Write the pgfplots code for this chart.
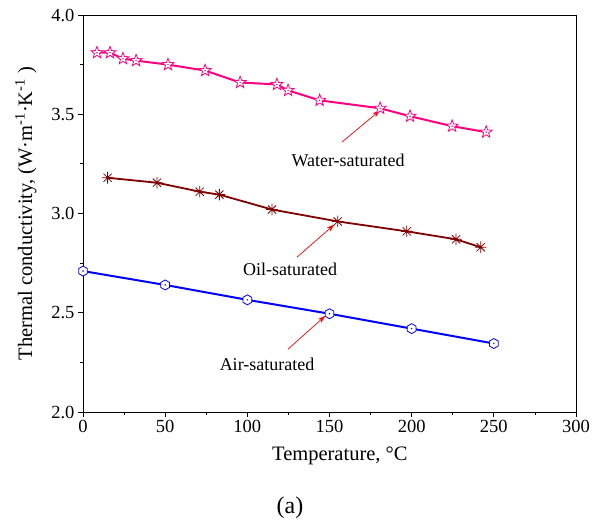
\documentclass[border=0pt]{standalone}
\usepackage{pgfplots}
\pgfplotsset{compat=1.18}
\usepackage{fontspec}
\setmainfont{Liberation Serif}
\usetikzlibrary{arrows.meta}
\definecolor{waterc}{RGB}{255,0,128}
\definecolor{oilc}{RGB}{128,0,0}
\definecolor{airc}{RGB}{0,0,255}
\pgfdeclareplotmark{hexo}{%
  \pgfpathmoveto{\pgfqpointpolar{90}{\pgfplotmarksize}}%
  \pgfpathlineto{\pgfqpointpolar{150}{\pgfplotmarksize}}%
  \pgfpathlineto{\pgfqpointpolar{210}{\pgfplotmarksize}}%
  \pgfpathlineto{\pgfqpointpolar{270}{\pgfplotmarksize}}%
  \pgfpathlineto{\pgfqpointpolar{330}{\pgfplotmarksize}}%
  \pgfpathlineto{\pgfqpointpolar{30}{\pgfplotmarksize}}%
  \pgfpathclose
  \pgfusepathqfillstroke
  \pgfpathcircle{\pgfpointorigin}{0.25pt}\pgfusepathqstroke}
\pgfdeclareplotmark{staro}{%
  \pgfpathmoveto{\pgfqpointpolar{90}{\pgfplotmarksize}}%
  \pgfpathlineto{\pgfqpointpolar{126}{0.42\pgfplotmarksize}}%
  \pgfpathlineto{\pgfqpointpolar{162}{\pgfplotmarksize}}%
  \pgfpathlineto{\pgfqpointpolar{198}{0.42\pgfplotmarksize}}%
  \pgfpathlineto{\pgfqpointpolar{234}{\pgfplotmarksize}}%
  \pgfpathlineto{\pgfqpointpolar{270}{0.42\pgfplotmarksize}}%
  \pgfpathlineto{\pgfqpointpolar{306}{\pgfplotmarksize}}%
  \pgfpathlineto{\pgfqpointpolar{342}{0.42\pgfplotmarksize}}%
  \pgfpathlineto{\pgfqpointpolar{18}{\pgfplotmarksize}}%
  \pgfpathlineto{\pgfqpointpolar{54}{0.42\pgfplotmarksize}}%
  \pgfpathclose
  \pgfusepathqfillstroke
  \pgfpathcircle{\pgfpointorigin}{0.25pt}\pgfusepathqstroke}
\pgfdeclareplotmark{ast8}{%
  \pgfpathmoveto{\pgfqpointpolar{0}{\pgfplotmarksize}}\pgfpathlineto{\pgfqpointpolar{180}{\pgfplotmarksize}}%
  \pgfpathmoveto{\pgfqpointpolar{90}{\pgfplotmarksize}}\pgfpathlineto{\pgfqpointpolar{270}{\pgfplotmarksize}}%
  \pgfpathmoveto{\pgfqpointpolar{45}{\pgfplotmarksize}}\pgfpathlineto{\pgfqpointpolar{225}{\pgfplotmarksize}}%
  \pgfpathmoveto{\pgfqpointpolar{135}{\pgfplotmarksize}}\pgfpathlineto{\pgfqpointpolar{315}{\pgfplotmarksize}}%
  \pgfusepathqstroke}
\begin{document}
\begin{tikzpicture}
\path[use as bounding box] (-83pt,-112pt) rectangle (512pt,412pt);
\begin{axis}[
  at={(0pt,0pt)}, anchor=south west,
  scale only axis, width=493pt, height=397pt,
  xmin=0, xmax=300, ymin=2.0, ymax=4.0,
  xtick={0,50,...,300}, ytick={2.0,2.5,...,4.0},
  minor x tick num=1, minor y tick num=1,
  xtick pos=bottom, ytick pos=left,
  tick align=outside,
  major tick length=5pt, minor tick length=3pt,
  tick style={black, line width=0.8pt},
  axis line style={line width=0.9pt},
  yticklabel style={/pgf/number format/fixed, /pgf/number format/fixed zerofill, /pgf/number format/precision=1},
  /pgf/number format/assume math mode=true,
  ticklabel style={font=\fontsize{18.5}{22}\selectfont},
  label style={font=\fontsize{20.5}{24}\selectfont},
  xlabel={Temperature, °C},
  ylabel={Thermal conductivity, (W·m\textsuperscript{-1}·K\textsuperscript{-1} )},
  xlabel style={at={(axis description cs:0.521,0)}, yshift=-44pt, anchor=center},
  ylabel style={at={(axis description cs:-0.116,0.5)}, anchor=center},
  clip=false,
]
\addplot[color=waterc, line width=2pt, mark=staro, mark size=6.3pt,
  mark options={fill=white, line width=0.8pt, solid}]
  coordinates {(8.5,3.81) (16.4,3.81) (24.3,3.78) (32.3,3.77) (51.7,3.75) (74.3,3.72) (95.6,3.66) (118,3.65) (124.8,3.62) (144,3.57) (180.8,3.53) (199,3.49) (224.6,3.44) (245.3,3.41)};
\addplot[color=oilc, line width=1.8pt, mark=ast8, mark size=5.8pt,
  mark options={line width=0.8pt, solid}]
  coordinates {(15,3.18) (45,3.155) (71,3.11) (83,3.095) (115,3.02) (155,2.96) (197,2.91) (227,2.87) (242,2.83)};
\addplot[color=airc, line width=2pt, mark=hexo, mark size=5pt,
  mark options={fill=white, line width=0.8pt, solid}]
  coordinates {(0,2.71) (50,2.64) (100,2.565) (150,2.495) (200,2.42) (250,2.345)};
\draw[red, line width=0.7pt, -{Stealth[length=8pt,width=5pt]}] (axis cs:157.6,3.36) -- (axis cs:180.8,3.52);
\draw[red, line width=0.7pt, -{Stealth[length=8pt,width=5pt]}] (axis cs:130.2,2.78) -- (axis cs:153,2.945);
\draw[red, line width=0.7pt, -{Stealth[length=8pt,width=5pt]}] (axis cs:124.8,2.317) -- (axis cs:147.5,2.485);
\node[font=\fontsize{18}{22}\selectfont] at (axis cs:161.3,3.27) {Water-saturated};
\node[font=\fontsize{18}{22}\selectfont] at (axis cs:126,2.72) {Oil-saturated};
\node[font=\fontsize{18}{22}\selectfont] at (axis cs:112,2.24) {Air-saturated};
\end{axis}
\node[font=\fontsize{24}{28}\selectfont] at (207pt,-96pt) {(a)};
\end{tikzpicture}
\end{document}
